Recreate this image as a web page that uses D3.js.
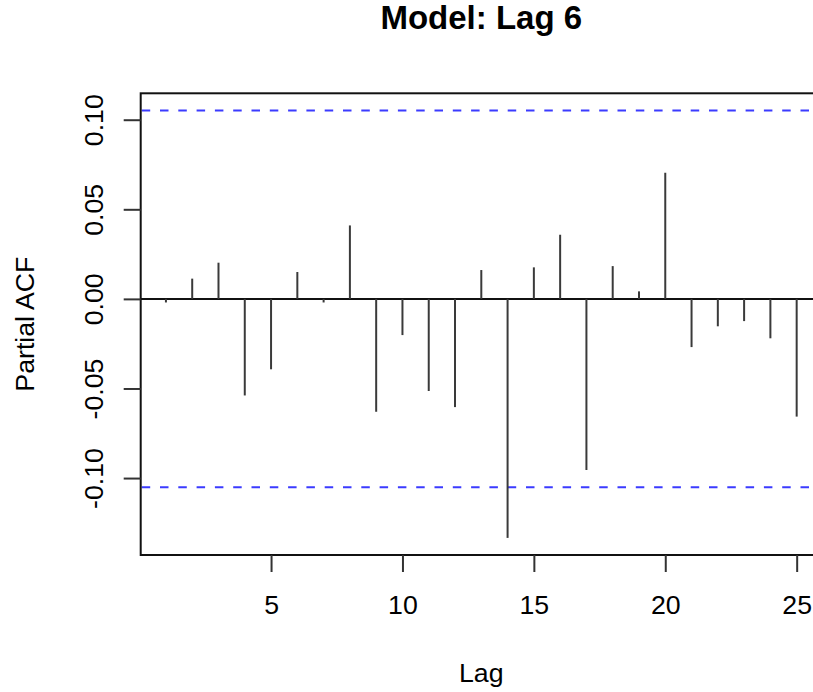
<!DOCTYPE html>
<html>
<head>
<meta charset="utf-8">
<script src="https://cdn.jsdelivr.net/npm/d3@7"></script>
<style>
  html, body { margin: 0; padding: 0; background: #fff; }
  svg { display: block; }
  text { font-family: "Liberation Sans", Arial, Helvetica, sans-serif; fill: #000; }
</style>
</head>
<body>
<svg id="chart" width="813" height="692"></svg>
<script>
// ---- data ----
const lags = [1,2,3,4,5,6,7,8,9,10,11,12,13,14,15,16,17,18,19,20,21,22,23,24,25];
const pacf = [-0.002, 0.0113, 0.0202, -0.0539, -0.0393, 0.0150, -0.002, 0.0410, -0.0630, -0.0202,
              -0.0514, -0.0604, 0.0161, -0.1334, 0.0176, 0.0358, -0.0955, 0.0183, 0.0042, 0.0704,
              -0.0269, -0.0153, -0.0124, -0.0220, -0.0657];
const confLimit = 0.1052;
const xTicks = [5, 10, 15, 20, 25];
const yTicks = [-0.10, -0.05, 0.00, 0.05, 0.10];
const titleText = "Model: Lag 6";
const xLabel = "Lag";
const yLabel = "Partial ACF";

// ---- layout ----
const svg = d3.select("#chart");
const pLeft = 140.7, pRight = 821.9, pTop = 93.3, pBottom = 555;

// R-style 4% extended ranges
const xr = d3.extent(lags);
const xpad = (xr[1] - xr[0]) * 0.04;
const yMin = Math.min(d3.min(pacf), -confLimit), yMax = Math.max(d3.max(pacf), confLimit);
const ypad = (yMax - yMin) * 0.04;

const x = d3.scaleLinear().domain([xr[0] - xpad, xr[1] + xpad]).range([pLeft, pRight]);
const y = d3.scaleLinear().domain([yMin - ypad, yMax + ypad]).range([pBottom, pTop]);

const FS = 26.7;

// confidence lines
svg.selectAll("line.clim").data([confLimit, -confLimit]).join("line")
  .attr("class", "clim")
  .attr("x1", pLeft).attr("x2", pRight)
  .attr("y1", d => y(d)).attr("y2", d => y(d))
  .attr("stroke", "#3b3bff").attr("stroke-width", 2)
  .attr("stroke-dasharray", "8.5,9.8")
  .attr("stroke-dashoffset", -1);

// zero line
svg.append("line")
  .attr("x1", pLeft).attr("x2", pRight)
  .attr("y1", y(0)).attr("y2", y(0))
  .attr("stroke", "#111").attr("stroke-width", 2);

// spikes
svg.selectAll("line.spike").data(lags.map((l, i) => ({lag: l, v: pacf[i]}))).join("line")
  .attr("class", "spike")
  .attr("x1", d => x(d.lag)).attr("x2", d => x(d.lag))
  .attr("y1", y(0)).attr("y2", d => y(d.v))
  .attr("stroke", "#3a3a3a").attr("stroke-width", 2);

// frame
svg.append("rect")
  .attr("x", pLeft).attr("y", pTop)
  .attr("width", pRight - pLeft).attr("height", pBottom - pTop)
  .attr("fill", "none").attr("stroke", "#111").attr("stroke-width", 2);

// x axis
const gx = svg.append("g").attr("transform", `translate(0,${pBottom})`)
  .call(d3.axisBottom(x).tickValues(xTicks).tickSize(17).tickPadding(23).tickFormat(d3.format("d")));
gx.select(".domain").remove();
gx.selectAll(".tick line").attr("stroke", "#333").attr("stroke-width", 2);
gx.selectAll(".tick text").attr("font-size", FS).attr("fill", "#111");
gx.attr("font-family", null);

// y axis
const gy = svg.append("g").attr("transform", `translate(${pLeft},0)`)
  .call(d3.axisLeft(y).tickValues(yTicks).tickSize(17).tickFormat(d => d.toFixed(2)));
gy.select(".domain").remove();
gy.attr("font-family", null);
gy.selectAll(".tick line").attr("stroke", "#333").attr("stroke-width", 2);
gy.selectAll(".tick text")
  .attr("font-size", FS).attr("fill", "#111")
  .attr("transform", "rotate(-90)")
  .attr("x", 0).attr("y", -38).attr("dy", null)
  .attr("text-anchor", "middle");

// title
svg.append("text")
  .attr("x", (pLeft + pRight) / 2).attr("y", 29)
  .attr("text-anchor", "middle")
  .attr("font-size", 33).attr("font-weight", "bold")
  .text(titleText);

// axis labels
svg.append("text")
  .attr("x", (pLeft + pRight) / 2).attr("y", 682)
  .attr("text-anchor", "middle")
  .attr("font-size", FS)
  .text(xLabel);

svg.append("text")
  .attr("transform", `translate(34,${(pTop + pBottom) / 2}) rotate(-90)`)
  .attr("text-anchor", "middle")
  .attr("font-size", FS)
  .text(yLabel);
</script>
</body>
</html>
